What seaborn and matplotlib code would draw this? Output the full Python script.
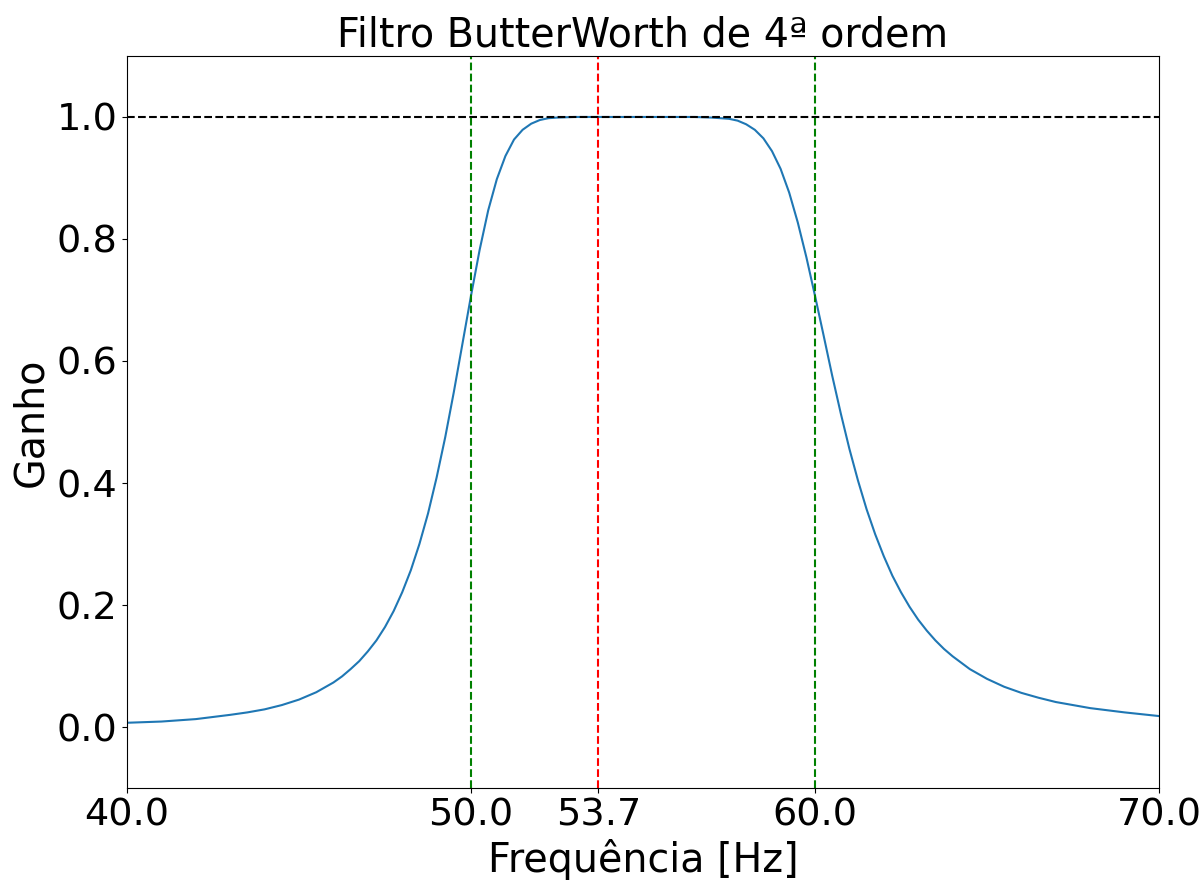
import matplotlib
matplotlib.use("Agg")
import matplotlib.pyplot as plt
import seaborn as sns
import pandas as pd

# Values
freq = [40, 41, 42, 43, 43.5, 44, 44.5, 45, 45.25, 45.5, 45.75, 46, 46.25, 46.5, 46.75,
        47, 47.25, 47.5, 47.75, 48, 48.25, 48.5, 48.75, 49, 49.25, 49.5, 49.75,
        50, 50.25, 50.5, 50.75, 51, 51.25, 51.5, 51.75, 52, 52.25, 52.5, 53, 53.5,
        54, 55, 56, 56.5, 57, 57.25, 57.5, 57.75, 58, 58.25, 58.5, 58.75, 59, 59.25,
        59.5, 59.75, 60, 60.25, 60.5, 60.75, 61, 61.25, 61.5, 61.75, 62, 62.25, 62.5,
        62.75, 63, 63.25, 63.5, 63.75, 64, 64.5, 65, 65.5, 66, 66.5, 67, 68, 69, 70]
gain = [0.007, 0.009, 0.013, 0.020, 0.024, 0.029, 0.036, 0.045, 0.051, 0.057, 0.065,
        0.073, 0.083, 0.095, 0.108, 0.124, 0.142, 0.164, 0.190, 0.221, 0.257, 0.300,
        0.350, 0.409, 0.475, 0.549, 0.628, 0.707, 0.782, 0.847, 0.898, 0.936, 0.963,
        0.979, 0.989, 0.995, 0.998, 0.999, 1.000, 1.000, 1.000, 1.000, 1.000, 1.000,
        0.999, 0.998, 0.997, 0.994, 0.988, 0.979, 0.965, 0.944, 0.915, 0.876, 0.827,
        0.770, 0.707, 0.642, 0.576, 0.514, 0.456, 0.404, 0.357, 0.316, 0.280, 0.248,
        0.221, 0.197, 0.176, 0.158, 0.142, 0.128, 0.116, 0.095, 0.079, 0.066, 0.056,
        0.048, 0.041, 0.031, 0.024, 0.018]
band_edges = [50.0, 60.0]
center = 53.7
xticks = [40.0, 50.0, 53.7, 60.0, 70.0]
yticks = [0.0, 0.2, 0.4, 0.6, 0.8, 1.0]

plt.rcParams['font.family'] = ['DejaVu Sans']

fig, ax = plt.subplots(figsize=(12.03, 8.8), dpi=100)
fig.subplots_adjust(left=0.1056, right=0.9634, top=0.9364, bottom=0.1045)

df = pd.DataFrame({"f": freq, "g": gain})
sns.lineplot(data=df, x="f", y="g", ax=ax, color="#1f77b4", linewidth=1.5)

ax.axhline(1.0, color="black", linestyle="--", linewidth=1.5)
for e in band_edges:
    ax.axvline(e, color="green", linestyle="--", linewidth=1.5)
ax.axvline(center, color="red", linestyle="--", linewidth=1.5)

ax.set_xlim(40, 70)
ax.set_ylim(-0.1, 1.1)
ax.set_xticks(xticks)
ax.set_xticklabels([f"{t:.1f}" for t in xticks])
ax.set_yticks(yticks)
ax.set_yticklabels([f"{t:.1f}" for t in yticks])
ax.tick_params(labelsize=27.5)
ax.set_title("Filtro ButterWorth de 4ª ordem", fontsize=28.5)
ax.set_xlabel("Frequência [Hz]", fontsize=28.5)
ax.set_ylabel("Ganho", fontsize=28.5)

fig.savefig("out.png", dpi=100)
